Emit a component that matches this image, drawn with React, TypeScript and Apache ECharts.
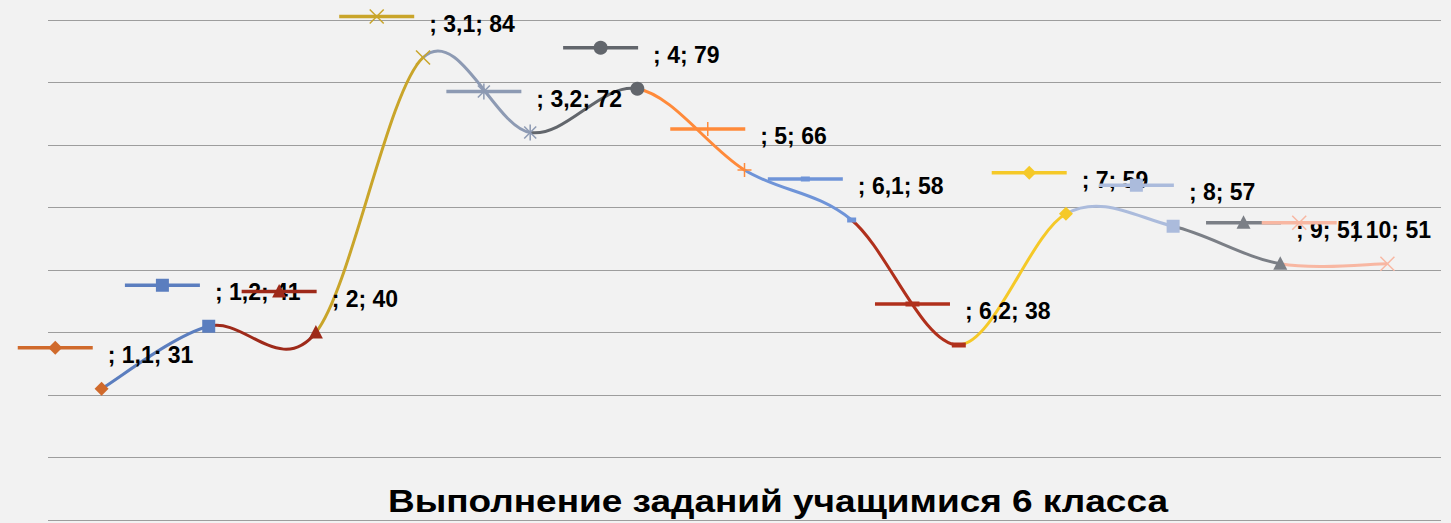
import React, { useEffect, useRef } from 'react';
import * as echarts from 'echarts';

const categories = ['1,1', '1,2', '2', '3,1', '3,2', '4', '5', '6,1', '6,2', '7', '8', '9', '10'];
const values = [31, 41, 40, 84, 72, 79, 66, 58, 38, 59, 57, 51, 51];
const pointColors = ['#d06a2c', '#5b7ebf', '#9e2a1a', '#c9a52a', '#8d9ab3', '#62666c', '#ff8a3a', '#6f94d8', '#b0301c', '#f5c928', '#abbbdc', '#7b7f86', '#f8b7a2'];
const markerKinds = ['diamond', 'square', 'triangle', 'cross', 'star', 'circle', 'plus', 'dash', 'longDash', 'diamond', 'square', 'triangle', 'cross'];
const yMin = 10;
const yMax = 90;
const yInterval = 10;
const titleText = 'Выполнение заданий учащимися 6 класса';

const FONT = '"Liberation Sans", Arial, sans-serif';
const LABEL_SIZE = 23;
const TITLE_SIZE = 31;
const TITLE_WIDTH = 780;
const KEY_LEN = 75;
const KEY_GAP = 15;
const TENSION = 1 / 6;

let measureCtx: CanvasRenderingContext2D | null = null;
function textWidth(t: string, size: number): number {
  if (!measureCtx) measureCtx = document.createElement('canvas').getContext('2d');
  measureCtx!.font = `bold ${size}px ${FONT}`;
  return measureCtx!.measureText(t).width;
}

function seg(x1: number, y1: number, x2: number, y2: number, color: string, w: number) {
  return { type: 'line', shape: { x1, y1, x2, y2 }, style: { stroke: color, lineWidth: w } };
}

function marker(kind: string, cx: number, cy: number, color: string): any {
  switch (kind) {
    case 'diamond':
      return { type: 'polygon', shape: { points: [[cx, cy - 7], [cx + 7, cy], [cx, cy + 7], [cx - 7, cy]] }, style: { fill: color } };
    case 'square':
      return { type: 'rect', shape: { x: cx - 6.5, y: cy - 6.5, width: 13, height: 13 }, style: { fill: color } };
    case 'triangle':
      return { type: 'polygon', shape: { points: [[cx, cy - 7.5], [cx + 7, cy + 6], [cx - 7, cy + 6]] }, style: { fill: color } };
    case 'circle':
      return { type: 'circle', shape: { cx, cy, r: 7 }, style: { fill: color } };
    case 'cross':
      return { type: 'group', children: [seg(cx - 7, cy - 7, cx + 7, cy + 7, color, 1.5), seg(cx - 7, cy + 7, cx + 7, cy - 7, color, 1.5)] };
    case 'star':
      return { type: 'group', children: [seg(cx - 6, cy - 6, cx + 6, cy + 6, color, 1.5), seg(cx - 6, cy + 6, cx + 6, cy - 6, color, 1.5), seg(cx, cy - 8, cx, cy + 8, color, 1.5)] };
    case 'plus':
      return { type: 'group', children: [seg(cx - 7, cy, cx + 7, cy, color, 1.5), seg(cx, cy - 7, cx, cy + 7, color, 1.5)] };
    case 'dash':
      return { type: 'rect', shape: { x: cx - 4.5, y: cy - 2.5, width: 9, height: 5 }, style: { fill: color } };
    case 'longDash':
      return { type: 'rect', shape: { x: cx - 7, y: cy - 2.5, width: 14, height: 5 }, style: { fill: color } };
  }
  return { type: 'group', children: [] };
}

export default function App() {
  const ref = useRef<HTMLDivElement>(null);
  useEffect(() => {
    if (!ref.current) return;
    const chart = echarts.init(ref.current, undefined, { renderer: 'svg' });
    const pts = values.map((v, i) => [i, v]);
    const n = values.length;
    const titleScale = TITLE_WIDTH / textWidth(titleText, TITLE_SIZE);

    const option: any = {
      animation: false,
      backgroundColor: '#f2f2f2',
      grid: { left: 48, right: 10, top: 20, bottom: 3, containLabel: false },
      xAxis: {
        type: 'category',
        data: categories,
        boundaryGap: true,
        axisLine: { show: false },
        axisTick: { show: false },
        axisLabel: { show: false },
        splitLine: { show: false },
      },
      yAxis: {
        type: 'value',
        min: yMin,
        max: yMax,
        interval: yInterval,
        axisLine: { show: false },
        axisTick: { show: false },
        axisLabel: { show: false },
        splitLine: { show: true, lineStyle: { color: '#9d9d9d', width: 1.2 } },
      },
      series: [
        {
          // smooth line, one coloured segment per point (Catmull-Rom like Excel)
          type: 'custom',
          data: pts,
          clip: false,
          z: 2,
          renderItem: (params: any, api: any) => {
            const i = params.dataIndex;
            if (i >= n - 1) return null;
            const P = (k: number) => api.coord([k, values[Math.max(0, Math.min(n - 1, k))]]);
            const p0 = i > 0 ? P(i - 1) : P(i);
            const p1 = P(i);
            const p2 = P(i + 1);
            const p3 = i + 2 < n ? P(i + 2) : P(i + 1);
            return {
              type: 'bezierCurve',
              shape: {
                x1: p1[0], y1: p1[1],
                cpx1: p1[0] + (p2[0] - p0[0]) * TENSION,
                cpy1: p1[1] + (p2[1] - p0[1]) * TENSION,
                cpx2: p2[0] - (p3[0] - p1[0]) * TENSION,
                cpy2: p2[1] - (p3[1] - p1[1]) * TENSION,
                x2: p2[0], y2: p2[1],
              },
              style: { stroke: pointColors[i + 1], lineWidth: 3, fill: null },
            };
          },
        },
        {
          type: 'custom',
          data: pts,
          clip: false,
          z: 3,
          renderItem: (params: any, api: any) => {
            const i = params.dataIndex;
            const [cx, cy] = api.coord([i, values[i]]);
            return marker(markerKinds[i], cx, cy, pointColors[i]);
          },
        },
        {
          type: 'custom',
          data: pts,
          clip: false,
          z: 4,
          renderItem: (params: any, api: any) => {
            const i = params.dataIndex;
            const [cx, cy] = api.coord([i, values[i]]);
            const text = `; ${categories[i]}; ${values[i]}`;
            const w = textWidth(text, LABEL_SIZE);
            const block = KEY_LEN + KEY_GAP + w;
            const rightLimit = params.coordSys.x + params.coordSys.width - 10;
            let left = cx + 4 - block / 2;
            left = Math.min(left, rightLimit - block);
            const ky = cy - 41;
            return {
              type: 'group',
              children: [
                seg(left, ky, left + KEY_LEN, ky, pointColors[i], 3.5),
                marker(markerKinds[i], left + KEY_LEN / 2, ky, pointColors[i]),
                {
                  type: 'text',
                  x: left + KEY_LEN + KEY_GAP,
                  y: cy - 34,
                  style: {
                    text,
                    fill: '#000',
                    font: `bold ${LABEL_SIZE}px ${FONT}`,
                    align: 'left',
                    verticalAlign: 'middle',
                  },
                },
              ],
            };
          },
        },
      ],
      graphic: [
        {
          type: 'text',
          x: 778,
          y: 501,
          scaleX: titleScale,
          z: 10,
          style: {
            text: titleText,
            fill: '#000',
            font: `bold ${TITLE_SIZE}px ${FONT}`,
            align: 'center',
            verticalAlign: 'middle',
          },
        },
      ],
    };
    chart.setOption(option);
    return () => chart.dispose();
  }, []);
  return <div ref={ref} style={{ position: 'fixed', left: 0, top: 0, width: 1451, height: 523 }} />;
}
